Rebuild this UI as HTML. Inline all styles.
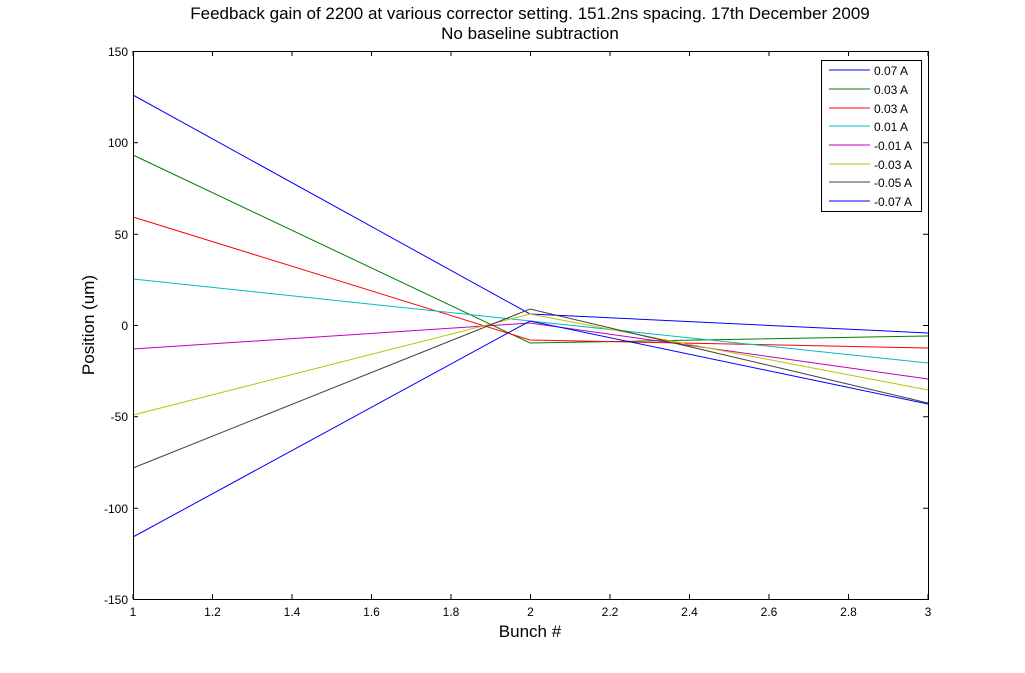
<!DOCTYPE html><html><head><style>body{margin:0;background:#fff}svg{display:block;font-family:"Liberation Sans",sans-serif}</style></head><body>
<svg width="1025" height="673" xmlns="http://www.w3.org/2000/svg">
<rect width="1025" height="673" fill="#fff"/>
<text x="530" y="19" font-size="17" text-anchor="middle">Feedback gain of 2200 at various corrector setting. 151.2ns spacing. 17th December 2009</text>
<text x="530" y="39" font-size="17" text-anchor="middle">No baseline subtraction</text>
<g fill="none" stroke-width="1">
<polyline stroke="#0000ff" points="133,95 530,314 928,333"/>
<polyline stroke="#008000" points="133,155 530,343 928,336"/>
<polyline stroke="#ff0000" points="133,217 530,340 928,348"/>
<polyline stroke="#00bfbf" points="133,279 530,321 928,363"/>
<polyline stroke="#bf00bf" points="133,349 530,323 928,379"/>
<polyline stroke="#bfbf00" points="133,415 530,314 928,390"/>
<polyline stroke="#404040" points="133,468 530,309 928,403"/>
<polyline stroke="#0000ff" points="133,537 530,321 928,404"/>
</g>
<rect x="133.5" y="51.5" width="795" height="548" fill="none" stroke="#000"/>
<g stroke="#000">
<path d="M133,51v5M212.5,51v5M292,51v5M371.5,51v5M451,51v5M530.5,51v5M610,51v5M689.5,51v5M769,51v5M848.5,51v5M928,51v5"/>
<path d="M133,599v-5M212.5,599v-5M292,599v-5M371.5,599v-5M451,599v-5M530.5,599v-5M610,599v-5M689.5,599v-5M769,599v-5M848.5,599v-5M928,599v-5"/>
<path d="M133,51.5h5M133,142.8h5M133,234.2h5M133,325.5h5M133,416.8h5M133,508.2h5M133,599.5h5"/>
<path d="M928,51.5h-5M928,142.8h-5M928,234.2h-5M928,325.5h-5M928,416.8h-5M928,508.2h-5M928,599.5h-5"/>
</g>
<g font-size="12" text-anchor="end">
<text x="128" y="56">150</text><text x="128" y="147">100</text><text x="128" y="239">50</text><text x="128" y="330">0</text><text x="128" y="421">-50</text><text x="128" y="513">-100</text><text x="128" y="604">-150</text>
</g>
<g font-size="12" text-anchor="middle">
<text x="133" y="616">1</text><text x="212.5" y="616">1.2</text><text x="292" y="616">1.4</text><text x="371.5" y="616">1.6</text><text x="451" y="616">1.8</text><text x="530.5" y="616">2</text><text x="610" y="616">2.2</text><text x="689.5" y="616">2.4</text><text x="769" y="616">2.6</text><text x="848.5" y="616">2.8</text><text x="928" y="616">3</text>
</g>
<text x="530" y="637" font-size="17" text-anchor="middle">Bunch #</text>
<text transform="translate(94,325) rotate(-90)" font-size="17" text-anchor="middle">Position (um)</text>
<rect x="821.5" y="60.5" width="100" height="151" fill="#fff" stroke="#000"/>
<g font-size="12">
<line x1="829" x2="870" y1="70" y2="70" stroke="#0000ff"/><text x="874" y="75">0.07 A</text>
<line x1="829" x2="870" y1="89" y2="89" stroke="#008000"/><text x="874" y="94">0.03 A</text>
<line x1="829" x2="870" y1="108" y2="108" stroke="#ff0000"/><text x="874" y="113">0.03 A</text>
<line x1="829" x2="870" y1="126" y2="126" stroke="#00bfbf"/><text x="874" y="131">0.01 A</text>
<line x1="829" x2="870" y1="145" y2="145" stroke="#bf00bf"/><text x="874" y="150">-0.01 A</text>
<line x1="829" x2="870" y1="164" y2="164" stroke="#bfbf00"/><text x="874" y="169">-0.03 A</text>
<line x1="829" x2="870" y1="182" y2="182" stroke="#404040"/><text x="874" y="187">-0.05 A</text>
<line x1="829" x2="870" y1="201" y2="201" stroke="#0000ff"/><text x="874" y="206">-0.07 A</text>
</g>
</svg>
</body></html>
